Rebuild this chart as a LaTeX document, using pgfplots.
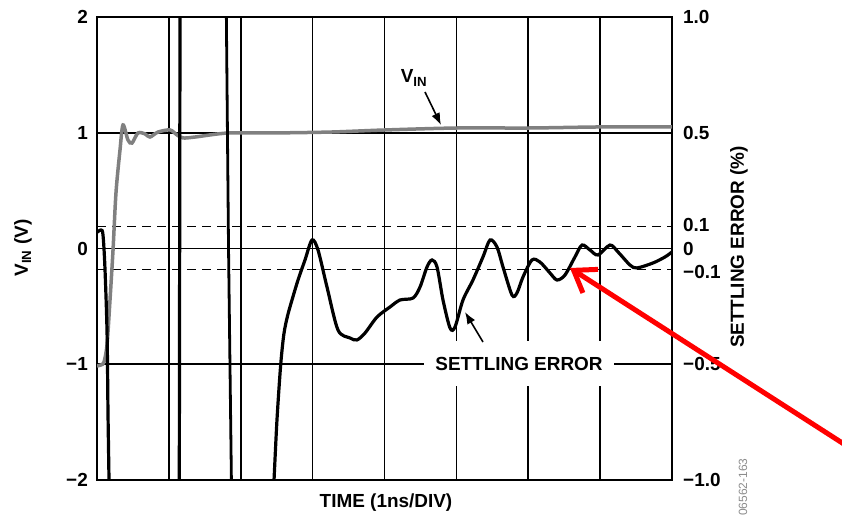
\documentclass[border=0pt]{standalone}
\usepackage{fontspec}
\setmainfont{Liberation Sans}
\usepackage{pgfplots}
\pgfplotsset{compat=1.18}
\usetikzlibrary{arrows.meta}

\pgfplotstableread{
x y
0 -1.015
0.056 -1.006
0.097 -0.981
0.139 -0.834
0.181 -0.445
0.223 -0.013
0.264 0.480
0.320 0.851
0.362 1.067
0.431 0.937
0.487 0.911
0.570 0.998
0.668 0.990
0.737 0.963
0.849 1.006
1.016 1.024
1.113 0.981
1.197 0.955
1.363 0.963
1.823 0.998
2.407 0.998
3.242 1.006
4.007 1.024
5.009 1.041
6.010 1.041
6.998 1.050
8.000 1.050
}\vin

\pgfplotstableread{
x y
2.44 -2.3
2.463 -2.0
2.504 -1.482
2.555 -1.010
2.600 -0.740
2.650 -0.585
2.713 -0.445
2.797 -0.272
2.894 -0.099
2.991 0.073
3.075 -0.013
3.200 -0.333
3.353 -0.704
3.520 -0.773
3.617 -0.790
3.729 -0.730
3.896 -0.592
4.077 -0.505
4.216 -0.445
4.397 -0.428
4.494 -0.333
4.591 -0.160
4.661 -0.099
4.731 -0.160
4.814 -0.445
4.912 -0.687
4.981 -0.678
5.092 -0.445
5.231 -0.272
5.370 -0.073
5.468 0.073
5.565 0.013
5.649 -0.160
5.774 -0.402
5.843 -0.384
5.927 -0.246
6.052 -0.099
6.163 -0.117
6.303 -0.212
6.400 -0.272
6.511 -0.229
6.650 -0.073
6.748 0.030
6.859 -0.013
6.970 -0.056
7.137 0.030
7.249 -0.030
7.416 -0.143
7.513 -0.168
7.736 -0.125
7.903 -0.073
8.000 -0.030
}\settle

\begin{document}
\begin{tikzpicture}
\begin{axis}[
  at={(0bp,0bp)}, anchor=south west,
  scale only axis, width=575bp, height=463bp,
  xmin=0, xmax=8, ymin=-2, ymax=2,
  xtick={1,...,7}, xticklabels={},
  ytick={-2,-1,0,1,2},
  yticklabels={−2,−1,0,1,2},
  major tick length=0pt,
  grid=major,
  major grid style={black, line width=1.6bp},
  axis line style={black, line width=1.8bp},
  tick label style={font=\fontsize{19}{19}\selectfont\bfseries},
  yticklabel style={inner xsep=0pt, xshift=-9bp},
  /pgf/number format/assume math mode=true,
]
\addplot[black, line width=1.5bp, dash pattern=on 9bp off 6bp] coordinates {(0,0.19) (8,0.19)};
\addplot[black, line width=1.5bp, dash pattern=on 9bp off 6bp] coordinates {(0,-0.18) (8,-0.18)};
% V_IN
\addplot[black!50, line width=3.5bp, smooth, tension=0.5] table[x=x,y=y] {\vin};
% settling error (off-scale swings and recovery)
\addplot[black, line width=3.2bp, smooth, tension=0.5] coordinates {
 (0,0.14) (0.056,0.16) (0.083,0.12) (0.11,-0.16) (0.14,-0.73) (0.153,-1.42) (0.167,-2.0) (0.18,-2.6)};
\addplot[black, line width=3.2bp] coordinates {(1.14,-2.6) (1.145,-2) (1.155,2) (1.16,2.6)};
\addplot[black, line width=2.8bp] coordinates {(1.79,2.6) (1.80,2) (1.83,0) (1.87,-2) (1.88,-2.6)};
\addplot[black, line width=3.2bp, smooth, tension=0.5] table[x=x,y=y] {\settle};
\end{axis}
\begin{axis}[
  at={(0bp,0bp)}, anchor=south west,
  scale only axis, width=575bp, height=463bp,
  xmin=0, xmax=8, ymin=-1, ymax=1,
  axis x line=none, axis y line*=right,
  y axis line style={draw=none},
  ytick={-1,-0.5,-0.1,0,0.1,0.5,1},
  yticklabels={−1.0,−0.5,−0.1,0,0.1,0.5,1.0},
  major tick length=0pt,
  tick label style={font=\fontsize{19}{19}\selectfont\bfseries},
  yticklabel style={inner xsep=0pt, xshift=11bp},
  /pgf/number format/assume math mode=true,
]
\end{axis}
% annotations
\node[fill=white, minimum width=190bp, minimum height=45bp, inner sep=0pt,
      font=\fontsize{19}{19}\selectfont\bfseries] at (422bp,116bp) {SETTLING ERROR};
\draw[black, line width=1.6bp, -{Latex[length=12bp,width=9bp]}] (386bp,138bp) -- (368bp,168bp);
\node[font=\fontsize{19}{19}\selectfont\bfseries] at (317bp,402bp) {V\textsubscript{IN}};
\draw[black, line width=1.6bp, -{Latex[length=12bp,width=9bp]}] (328bp,388bp) -- (344bp,355bp);
\node[font=\fontsize{19}{19}\selectfont\bfseries] at (289bp,-23bp) {TIME (1ns/DIV)};
\node[rotate=90, font=\fontsize{19}{19}\selectfont\bfseries] at (-74bp,232bp) {V\textsubscript{IN} (V)};
\node[rotate=90, font=\fontsize{19}{19}\selectfont\bfseries] at (642bp,233bp) {SETTLING ERROR (\%)};
\node[rotate=90, anchor=east, text=black!45, font=\fontsize{12}{12}\selectfont] at (646bp,25bp) {06562-163};
\draw[red, line width=5bp, -{Straight Barb[length=20bp,width=28bp]}] (750bp,34bp) -- (473bp,212bp);
\pgfresetboundingbox
\path[use as bounding box] (-97bp,-35bp) rectangle (745bp,480bp);
\end{tikzpicture}
\end{document}
